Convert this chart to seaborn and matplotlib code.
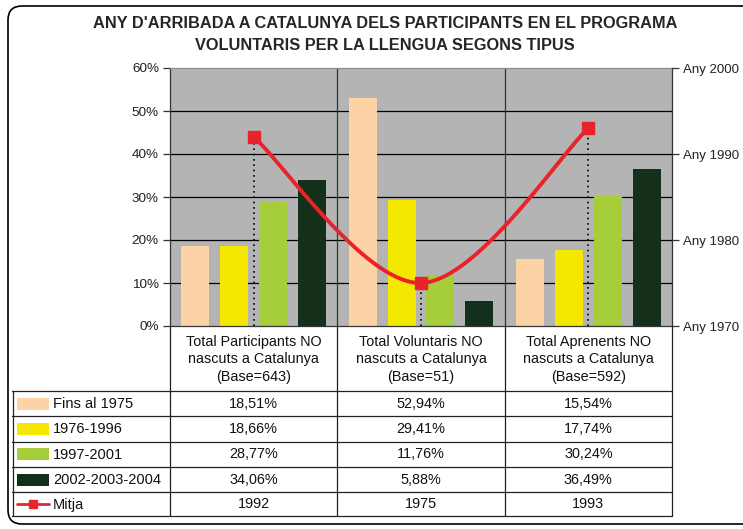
import numpy as np
import pandas as pd
import seaborn as sns
import matplotlib.pyplot as plt
from matplotlib.patches import FancyBboxPatch, Rectangle
from matplotlib.ticker import PercentFormatter
from matplotlib.transforms import IdentityTransform

# data
categories = ["Total Participants NO\nnascuts a Catalunya\n(Base=643)",
              "Total Voluntaris NO\nnascuts a Catalunya\n(Base=51)",
              "Total Aprenents NO\nnascuts a Catalunya\n(Base=592)"]
periods = ["Fins al 1975", "1976-1996", "1997-2001", "2002-2003-2004"]
fins_1975 = [18.51, 52.94, 15.54]
p_1976_1996 = [18.66, 29.41, 17.74]
p_1997_2001 = [28.77, 11.76, 30.24]
p_2002_2004 = [34.06, 5.88, 36.49]
mitja = [1992, 1975, 1993]
colors = ["#FDD2A5", "#F4E800", "#A6CD3A", "#142F1A"]
red = "#E8242A"

series = [fins_1975, p_1976_1996, p_1997_2001, p_2002_2004]
rows = []
for p, vals in zip(periods, series):
    for c, v in zip(categories, vals):
        rows.append({"cat": c, "period": p, "val": v})
df = pd.DataFrame(rows)

sns.set_style("white")
plt.rcParams['font.family'] = ['Liberation Sans', 'DejaVu Sans']

W, H = 743, 529
fig = plt.figure(figsize=(W / 100, H / 100), dpi=100)

# plot area in pixels
L, R, T, B = 170, 672, 68, 326
ax = fig.add_axes([L / W, 1 - B / H, (R - L) / W, (B - T) / H])
ax.set_facecolor("#B4B4B4")
ax.set_axisbelow(True)
for y in range(10, 60, 10):
    ax.axhline(y, color="black", lw=0.9, zorder=0)
for x in [0.5, 1.5]:
    ax.axvline(x, color="#333333", lw=0.9, zorder=0)

sns.barplot(data=df, x="cat", y="val", hue="period", palette=colors,
            width=0.93, gap=0.28, saturation=1, errorbar=None,
            legend=False, ax=ax, zorder=2, linewidth=0, edgecolor="none")
ax.set_xlim(-0.5, 2.5)
ax.set_ylim(0, 60)
ax.set_yticks(range(0, 61, 10))
ax.yaxis.set_major_formatter(PercentFormatter(100, decimals=0))
ax.set_xticks([])
ax.set_xlabel("")
ax.set_ylabel("")
ax.tick_params(axis="y", left=True, length=5, width=0.9, color="#333333",
               labelsize=9.7, pad=3, labelcolor="#222222")
for s in ["left", "bottom"]:
    ax.spines[s].set_color("#333333")
    ax.spines[s].set_linewidth(0.9)
ax.spines["top"].set_color("#8C8C8C")
ax.spines["top"].set_linewidth(0.9)
ax.spines["right"].set_visible(False)

# secondary axis: mean arrival year
ax2 = ax.twinx()
ax2.set_ylim(1970, 2000)
ax2.set_yticks([1970, 1980, 1990, 2000])
ax2.set_yticklabels([f"Any {y}" for y in [1970, 1980, 1990, 2000]])
ax2.tick_params(axis="y", right=True, length=5, width=0.9, color="#333333",
                labelsize=9.5, pad=3, labelcolor="#222222")
for s in ["left", "top", "bottom"]:
    ax2.spines[s].set_visible(False)
ax2.spines["right"].set_color("#333333")
ax2.spines["right"].set_linewidth(0.9)

# smoothed line (Catmull-Rom as cubic Bezier, like the spreadsheet smoothing)
xs = np.arange(len(mitja), dtype=float)
ys = np.array(mitja, dtype=float)
pts = np.column_stack([xs, ys])
ext = np.vstack([pts[0], pts, pts[-1]])
t = np.linspace(0, 1, 60)[:, None]
curve = []
for i in range(len(pts) - 1):
    p0, p3 = ext[i + 1], ext[i + 2]
    c1 = p0 + (ext[i + 2] - ext[i]) / 6
    c2 = p3 - (ext[i + 3] - ext[i + 1]) / 6
    seg = (1 - t) ** 3 * p0 + 3 * (1 - t) ** 2 * t * c1 + 3 * (1 - t) * t ** 2 * c2 + t ** 3 * p3
    curve.append(seg)
curve = np.vstack(curve)
ax2.vlines(xs, 1970, ys, colors="black", linestyles=(0, (1, 2.2)), lw=1.2, zorder=3)
ax2.plot(curve[:, 0], curve[:, 1], color=red, lw=2.8, zorder=4, solid_capstyle="round")
ax2.plot(xs, ys, ls="none", marker="s", ms=8, color=red, zorder=5)

# data table below the chart
tax = fig.add_axes([12 / W, 1 - 516 / H, (R - 12) / W, (516 - B) / H])
tax.set_xlim(12, R)
tax.set_ylim(516, B)
tax.axis("off")
cw = (R - L) / 3
col_x = [L + cw * i for i in range(4)]
row_y = [391, 416.3, 441.6, 466.9, 492.2, 516]
lc = "#222222"
for i, x in enumerate(col_x):
    tax.plot([x, x], [B, 516], color=lc, lw=0.9, clip_on=False)
tax.plot([12.5, 12.5], [391, 516], color=lc, lw=0.9, clip_on=False)
for y in row_y:
    tax.plot([12, R], [y, y], color=lc, lw=0.9, clip_on=False)

for i, c in enumerate(categories):
    tax.text(L + cw * (i + 0.5), (B + 391) / 2 + 1, c, ha="center", va="center",
             fontsize=10.4, linespacing=1.3, color="#111111")

labels = periods + ["Mitja"]
table_vals = [[f"{v:.2f}".replace(".", ",") + "%" for v in s] for s in series]
table_vals.append([str(m) for m in mitja])
for r in range(5):
    yc = (row_y[r] + row_y[r + 1]) / 2
    if r < 4:
        tax.add_patch(Rectangle((17, yc - 6), 32, 12, color=colors[r], lw=0))
    else:
        tax.plot([17, 49], [yc, yc], color=red, lw=2)
        tax.plot([33], [yc], marker="s", ms=6, color=red)
    tax.text(53, yc + 0.5, labels[r], ha="left", va="center", fontsize=10.5, color="#111111")
    for i in range(3):
        tax.text(L + cw * (i + 0.5), yc, table_vals[r][i], ha="center", va="center",
                 fontsize=10.4, color="#111111")

fig.text(385 / W, 1 - 23 / H, "ANY D'ARRIBADA A CATALUNYA DELS PARTICIPANTS EN EL PROGRAMA",
         ha="center", va="center", fontsize=11.8, fontweight="bold")
fig.text(385 / W, 1 - 45 / H, "VOLUNTARIS PER LA LLENGUA SEGONS TIPUS",
         ha="center", va="center", fontsize=11.8, fontweight="bold")

frame = FancyBboxPatch((8, H - 524), W + 10, 518, boxstyle="round,pad=0,rounding_size=14",
                       transform=IdentityTransform(), fill=False, ec="black", lw=1.2)
fig.add_artist(frame)

fig.savefig("out.png", dpi=100)
